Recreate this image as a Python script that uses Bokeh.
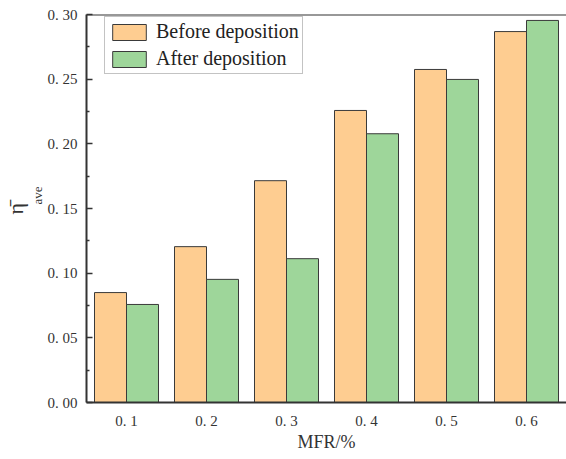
from bokeh.plotting import figure
from bokeh.models import ColumnDataSource, FixedTicker, Span, Legend, LegendItem, Range1d, Title
from bokeh.transform import dodge
from bokeh.embed import file_html
from bokeh.resources import INLINE

categories = ["0. 1", "0. 2", "0. 3", "0. 4", "0. 5", "0. 6"]
before = [0.085, 0.1205, 0.1715, 0.2258, 0.2575, 0.2868]
after = [0.0758, 0.0952, 0.1112, 0.2078, 0.2498, 0.2954]
y_ticks = [0.0, 0.05, 0.1, 0.15, 0.2, 0.25, 0.3]
y_tick_labels = ["0. 00", "0. 05", "0. 10", "0. 15", "0. 20", "0. 25", "0. 30"]
y_minor = [0.025, 0.075, 0.125, 0.175, 0.225, 0.275]
x_label = "MFR/%"
y_label_main = "\u03b7\u0304"
y_label_sub = "ave"
series_names = ["Before deposition", "After deposition"]

FONT = "Liberation Serif"
TXT = "#333333"

xpos = [i + 0.5 for i in range(len(categories))]
src = ColumnDataSource(dict(x=xpos, cat=categories, before=before, after=after))

p = figure(x_range=Range1d(0, 6.0), y_range=Range1d(0, 0.30),
           frame_width=480, frame_height=388,
           min_border_left=86, min_border_right=0, min_border_top=14, min_border_bottom=52,
           output_backend="svg", toolbar_location=None)

r1 = p.vbar(x=dodge("x", -0.2), top="before", width=0.4, source=src,
            fill_color="#FECD91", line_color="#3a3a3a", line_width=1)
r2 = p.vbar(x=dodge("x", 0.2), top="after", width=0.4, source=src,
            fill_color="#9ED69A", line_color="#3a3a3a", line_width=1)

p.xgrid.grid_line_color = None
p.ygrid.grid_line_color = None
p.outline_line_color = None
p.background_fill_color = "white"
p.border_fill_color = "white"

# top frame line
p.add_layout(Span(location=0.30, dimension="width", line_color="#333333", line_width=2))

ya = p.yaxis[0]
ya.ticker = FixedTicker(ticks=y_ticks, minor_ticks=y_minor)
ya.major_label_overrides = {t: l for t, l in zip(y_ticks, y_tick_labels)}
ya.major_tick_in = 6
ya.major_tick_out = 0
ya.minor_tick_in = 3
ya.minor_tick_out = 0
ya.major_tick_line_width = 1.5
ya.minor_tick_line_width = 1.5
ya.axis_line_width = 2
ya.axis_line_color = "#333333"
ya.major_tick_line_color = "#333333"
ya.minor_tick_line_color = "#333333"
ya.major_label_text_font = FONT
ya.major_label_text_font_size = "15px"
ya.major_label_text_color = TXT
ya.major_label_standoff = 9

xa = p.xaxis[0]
xa.ticker = FixedTicker(ticks=xpos, minor_ticks=[])
xa.major_label_overrides = {t: l for t, l in zip(xpos, categories)}
xa.major_tick_line_color = None
xa.minor_tick_line_color = None
xa.axis_line_width = 2
xa.axis_line_color = "#333333"
xa.major_label_text_font = FONT
xa.major_label_text_font_size = "15px"
xa.major_label_text_color = TXT
xa.major_label_standoff = 4
xa.axis_label = x_label
xa.axis_label_text_font = FONT
xa.axis_label_text_font_style = "normal"
xa.axis_label_text_font_size = "18px"
xa.axis_label_text_color = TXT
xa.axis_label_standoff = 0

# y-axis label: eta-bar with subscript "ave" (inner title first)
t_sub = Title(text=y_label_sub, align="left", offset=198, standoff=0,
              text_font=FONT, text_font_size="13px", text_font_style="normal",
              text_color=TXT)
t_main = Title(text=y_label_main, align="left", offset=188, standoff=0,
               text_font=FONT, text_font_size="22px", text_font_style="normal",
               text_color=TXT)
p.add_layout(t_sub, "left")
p.add_layout(t_main, "left")

legend = Legend(items=[LegendItem(label=series_names[0], renderers=[r1]),
                       LegendItem(label=series_names[1], renderers=[r2])],
                location=(18, 328))
legend.glyph_width = 42
legend.glyph_height = 20
legend.label_height = 20
legend.padding = 3
legend.spacing = 4
legend.margin = 0
legend.label_standoff = 6
legend.label_text_font = FONT
legend.label_text_font_size = "20px"
legend.label_text_color = "#222222"
legend.border_line_color = "#888888"
legend.border_line_width = 1.5
legend.background_fill_alpha = 1
p.add_layout(legend)

open("out.html", "w").write(file_html(p, INLINE))
